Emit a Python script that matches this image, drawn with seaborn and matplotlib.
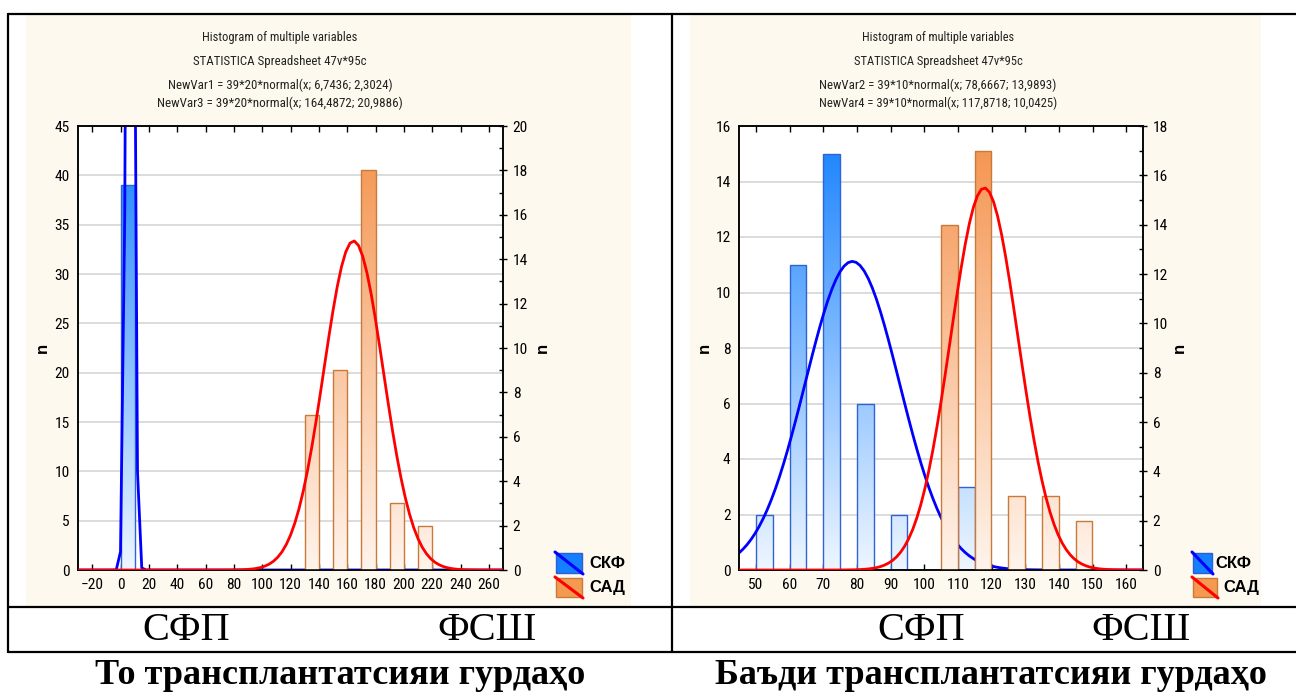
import os
import numpy as np
import pandas as pd
import matplotlib
matplotlib.use("Agg")
import matplotlib.pyplot as plt
import seaborn as sns
from matplotlib.patches import Rectangle
from matplotlib.lines import Line2D
from matplotlib.colors import LinearSegmentedColormap
from matplotlib import font_manager
from matplotlib.font_manager import FontProperties
from matplotlib.ticker import MultipleLocator

# ---------------- data ----------------
n_total = 39

left_binw = 20
left_skf_bins = [0]
left_skf_n = [39]
left_sad_bins = [120, 140, 160, 180, 200]
left_sad_n = [7, 9, 18, 3, 2]
left_skf_fit = (6.7436, 2.3024)
left_sad_fit = (164.4872, 20.9886)
left_xlim = (-30, 270)
left_xticks = list(range(-20, 261, 20))
left_ylim_l = (0, 45)
left_ylim_r = (0, 20)

right_binw = 10
right_skf_bins = [50, 60, 70, 80, 90, 110]
right_skf_n = [2, 11, 15, 6, 2, 3]
right_sad_bins = [100, 110, 120, 130, 140]
right_sad_n = [14, 17, 3, 3, 2]
right_skf_fit = (78.6667, 13.9893)
right_sad_fit = (117.8718, 10.0425)
right_xlim = (45, 165)
right_xticks = list(range(50, 161, 10))
right_ylim_l = (0, 16)
right_ylim_r = (0, 18)

left_titles = ["Histogram of multiple variables",
               "STATISTICA Spreadsheet 47v*95c",
               "NewVar1 = 39*20*normal(x; 6,7436; 2,3024)",
               "NewVar3 = 39*20*normal(x; 164,4872; 20,9886)"]
right_titles = ["Histogram of multiple variables",
                "STATISTICA Spreadsheet 47v*95c",
                "NewVar2 = 39*10*normal(x; 78,6667; 13,9893)",
                "NewVar4 = 39*10*normal(x; 117,8718; 10,0425)"]
legend_labels = ["СКФ", "САД"]
row_labels = ["СФП", "ФСШ"]
captions = ["То трансплантатсияи гурдаҳо", "Баъди трансплантатсияи гурдаҳо"]

# ---------------- style ----------------
sns.set_theme(style="ticks", rc={
    "axes.edgecolor": "black", "xtick.color": "black", "ytick.color": "black",
    "text.color": "black", "axes.labelcolor": "black",
    "axes.linewidth": 1.1,
})
plt.rcParams["font.family"] = ["Liberation Sans", "DejaVu Sans"]


def find_narrow_font():
    bad = ["bold", "italic", "oblique", "light", "thin", "medium", "black", "semi", "extra", "heavy"]
    cands = []
    for f in font_manager.fontManager.ttflist:
        b = os.path.basename(f.fname).lower()
        if ("narrow" in b or "condensed" in b) and not any(w in b for w in bad):
            rank = 0 if "liberation" in b else (1 if "roboto" in b else (2 if "dejavu" in b else 3))
            cands.append((rank, f.fname))
    if cands:
        cands.sort()
        return FontProperties(fname=cands[0][1])
    return FontProperties(family=["Liberation Sans", "DejaVu Sans"])


FP_NARROW = find_narrow_font()

W, H = 1296, 693
fig = plt.figure(figsize=(W / 100, H / 100), dpi=100)
fig.patch.set_facecolor("white")
renderer = fig.canvas.get_renderer()


def fx(px):
    return px / W


def fy(py):
    return 1 - py / H


def fp_size(size):
    p = FP_NARROW.copy()
    p.set_size(size)
    return p


def fit_size(text, target_px, start=10.0):
    t = fig.text(0, 0, text, fontproperties=fp_size(start))
    w = t.get_window_extent(renderer).width
    t.remove()
    return start * target_px / w


CREAM = "#FDF9EE"
BLUE_TOP, BLUE_BOT, BLUE_EDGE = "#1480FF", "#EEF6FF", "#2F62D2"
OR_TOP, OR_BOT, OR_EDGE = "#F4914A", "#FFF4EC", "#C9793A"

# cream panels
for x0, x1, y0, y1 in [(26, 631, 15, 606), (690, 1261, 15, 607)]:
    fig.add_artist(Rectangle((fx(x0), fy(y1)), fx(x1 - x0), (y1 - y0) / H,
                             transform=fig.transFigure, facecolor=CREAM,
                             edgecolor="none", zorder=-2))


def hline(y, x0, x1, lw=1.6):
    fig.add_artist(Line2D([fx(x0), fx(x1)], [fy(y), fy(y)], transform=fig.transFigure,
                          color="black", lw=lw, zorder=10))


def vline(x, y0, y1, lw=1.6):
    fig.add_artist(Line2D([fx(x), fx(x)], [fy(y0), fy(y1)], transform=fig.transFigure,
                          color="black", lw=lw, zorder=10))


hline(14, 8, 1296)
hline(607, 8, 1296)
hline(652, 8, 1296)
vline(8, 14, 652)
vline(672, 14, 652)

TICK_SIZE = min(fit_size("100", 21.5) * 1.05, 11.5)


def gradient_bars(ax, top, bottom, ymax):
    cmap = LinearSegmentedColormap.from_list("g", [bottom, top])
    grad = np.linspace(0, 1, 256).reshape(-1, 1)
    for p in list(ax.patches):
        h = p.get_height()
        if h <= 0:
            p.remove()
            continue
        x0, w = p.get_x(), p.get_width()
        im = ax.imshow(grad, cmap=cmap, extent=(x0, x0 + w, 0, ymax), origin="lower",
                       aspect="auto", interpolation="bilinear", zorder=0.9)
        im.set_clip_path(p)
        p.set_facecolor("none")
        p.set_zorder(1)


def normal_curve(xlim, binw, fit):
    # the program samples its fitted curve at ~100 steps across the axis
    m, s = fit
    xs = np.linspace(xlim[0], xlim[1], 101)
    ys = n_total * binw * np.exp(-0.5 * ((xs - m) / s) ** 2) / (s * np.sqrt(2 * np.pi))
    return xs, ys


def panel(px_left, px_width, xlim, xticks, ylim_l, ylim_r, ystep_l, binw,
          skf_bins, skf_n, sad_bins, sad_n, skf_fit, sad_fit, nl_px, nr_px):
    ax = fig.add_axes([fx(px_left), fy(570), px_width / W, 444 / H])
    ax.set_facecolor("white")
    ax2 = ax.twinx()
    hw = binw / 2

    d1 = pd.DataFrame({"x": np.array(skf_bins) + hw / 2, "n": skf_n})
    sns.histplot(data=d1, x="x", weights="n", binwidth=hw, binrange=xlim, ax=ax,
                 color=BLUE_TOP, edgecolor=BLUE_EDGE, linewidth=1.0, alpha=1)
    gradient_bars(ax, BLUE_TOP, BLUE_BOT, ylim_l[1])
    xs, ys = normal_curve(xlim, binw, skf_fit)
    sns.lineplot(x=xs, y=ys, ax=ax, color="#0000FF", linewidth=2.0, zorder=3)

    d2 = pd.DataFrame({"x": np.array(sad_bins) + 3 * hw / 2, "n": sad_n})
    sns.histplot(data=d2, x="x", weights="n", binwidth=hw, binrange=xlim, ax=ax2,
                 color=OR_TOP, edgecolor=OR_EDGE, linewidth=1.0, alpha=1)
    gradient_bars(ax2, OR_TOP, OR_BOT, ylim_r[1])
    xs, ys = normal_curve(xlim, binw, sad_fit)
    sns.lineplot(x=xs, y=ys, ax=ax2, color="#FF0000", linewidth=2.0, zorder=3)

    for a, yl in [(ax, ylim_l), (ax2, ylim_r)]:
        a.set_xlim(*xlim)
        a.set_ylim(*yl)
        for sp in a.spines.values():
            sp.set_visible(True)
            sp.set_color("black")
            sp.set_linewidth(1.1)

    ax.set_xticks(xticks)
    ax.set_yticks(np.arange(ylim_l[0], ylim_l[1] + 0.01, ystep_l))
    ax2.set_yticks(np.arange(ylim_r[0], ylim_r[1] + 0.01, 2))
    ax2.yaxis.set_minor_locator(MultipleLocator(1))
    ax.yaxis.grid(True, color="#D9D9D9", linewidth=1.3)
    ax.set_axisbelow(True)

    ax.tick_params(axis="x", which="major", direction="in", length=4, top=True,
                   bottom=True, pad=6, width=1)
    ax.tick_params(axis="y", which="major", direction="in", length=0, pad=6)
    ax2.tick_params(axis="y", which="major", direction="inout", length=6, pad=4, width=1)
    ax2.tick_params(axis="y", which="minor", direction="in", length=3, width=1)
    for lab in ax.get_xticklabels() + ax.get_yticklabels() + ax2.get_yticklabels():
        lab.set_fontproperties(fp_size(TICK_SIZE))

    ax.set_xlabel("")
    ax.set_ylabel("n", fontsize=12, fontweight="bold")
    ax2.set_ylabel("n", fontsize=12, fontweight="bold", rotation=90)
    ax.yaxis.set_label_coords((nl_px + 8 - px_left) / px_width, 0.5)
    ax2.yaxis.set_label_coords((nr_px - 6 - px_left) / px_width, 0.5)
    return ax, ax2


panel(78, 425, left_xlim, left_xticks, left_ylim_l, left_ylim_r, 5, left_binw,
      left_skf_bins, left_skf_n, left_sad_bins, left_sad_n, left_skf_fit, left_sad_fit,
      42, 541)
panel(739, 404, right_xlim, right_xticks, right_ylim_l, right_ylim_r, 2, right_binw,
      right_skf_bins, right_skf_n, right_sad_bins, right_sad_n, right_skf_fit, right_sad_fit,
      704, 1178)

# titles (sizes fitted to the widths seen in the reference, slightly enlarged)
title_widths = {"left": [143, 160, 207, 225], "right": [140, 155, 218, 220]}
for key, cx, lines in [("left", 280, left_titles), ("right", 938, right_titles)]:
    for y, t, wpx in zip([37, 62, 85, 103], lines, title_widths[key]):
        s = min(fit_size(t, wpx) * 1.08, 10.5)
        fig.text(fx(cx), fy(y), t, ha="center", va="center",
                 color="#222222", fontproperties=fp_size(s))


# legends
def legend(x0, pw1, pw2, tx1, tx2):
    specs = [(553, 573, pw1, BLUE_TOP, "#2F5FCF", "#0000FF", tx1, legend_labels[0]),
             (578, 597, pw2, "#F39A50", OR_EDGE, "#FF0000", tx2, legend_labels[1])]
    for y0, y1, pw, fc, ec, lc, tx, lab in specs:
        fig.add_artist(Rectangle((fx(x0), fy(y1)), pw / W, (y1 - y0) / H,
                                 transform=fig.transFigure, facecolor=fc,
                                 edgecolor=ec, lw=1, zorder=5))
        fig.add_artist(Line2D([fx(x0 - 1), fx(x0 + pw + 1)], [fy(y0 - 1), fy(y1 + 1)],
                              transform=fig.transFigure, color=lc, lw=2.2, zorder=6))
        fig.text(fx(tx), fy((y0 + y1) / 2), lab, ha="left", va="center",
                 fontsize=12, fontweight="bold", family=["Liberation Sans", "DejaVu Sans"])


legend(556, 26, 26, 589, 589)
legend(1193, 19, 24, 1215, 1223)

# table row labels and captions
SERIF = ["Liberation Serif", "DejaVu Serif"]
for cx, t in [(186, row_labels[0]), (487, row_labels[1]), (921, row_labels[0]), (1141, row_labels[1])]:
    fig.text(fx(cx), fy(631), t, ha="center", va="center", fontsize=29, family=SERIF)
for cx, t in [(340, captions[0]), (991, captions[1])]:
    fig.text(fx(cx), fy(676), t, ha="center", va="center", fontsize=26,
             fontweight="bold", family=SERIF)

fig.savefig("out.png", dpi=100, facecolor="white")
